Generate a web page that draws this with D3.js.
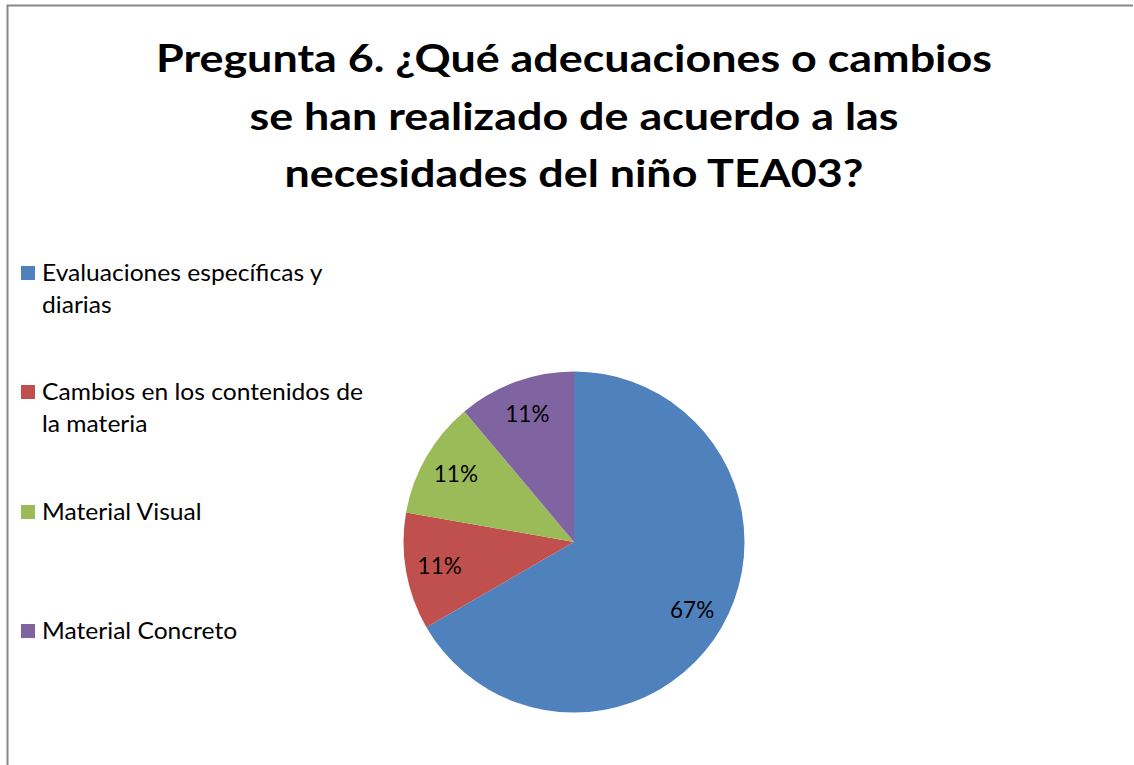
<!DOCTYPE html>
<html><head><meta charset="utf-8">
<script src="https://cdn.jsdelivr.net/npm/d3@7"></script>
<style>html,body{margin:0;padding:0;background:#fff;}svg{display:block;}</style>
</head><body>
<svg id="chart" width="1134" height="765"></svg>
<script>
const titleLines = ["Pregunta 6. ¿Qué adecuaciones o cambios", "se han realizado de acuerdo a las", "necesidades del niño TEA03?"];
const categories = ["Evaluaciones específicas y diarias", "Cambios en los contenidos de la materia", "Material Visual", "Material Concreto"];
const legendLines = [["Evaluaciones específicas y", "diarias"], ["Cambios en los contenidos de", "la materia"], ["Material Visual"], ["Material Concreto"]];
const values = [6, 1, 1, 1];
const colors = ["#4F81BD", "#C0504D", "#9BBB59", "#8064A2"];

const svg = d3.select("#chart");
const W = 1134, H = 765;
const font = "Lato, 'Open Sans', sans-serif";

// frame
svg.append("path").attr("d", `M7.5,${H+2} V5.5 H1133`).attr("fill","none").attr("stroke","#888").attr("stroke-width",2);

// title
const tg = svg.append("g");
const tBase = [72, 129.5, 187];
const tNodes = titleLines.map((t,i) => tg.append("text")
  .attr("x", 574).attr("y", tBase[i]).attr("text-anchor","middle")
  .attr("font-family", font).attr("font-weight","bold").attr("font-size", 38).attr("fill","#000").text(t));
const w1 = tNodes[0].node().getComputedTextLength();
const tf = 836 / w1;
tNodes.forEach(n => { const w = n.node().getComputedTextLength(); n.attr("textLength", w*tf).attr("lengthAdjust","spacingAndGlyphs"); });

// legend
const lg = svg.append("g");
const legY = [273, 392, 512, 631];
const lNodes = [];
legendLines.forEach((lines, i) => {
  lg.append("rect").attr("x", 21).attr("y", legY[i]-7).attr("width", 14).attr("height", 14).attr("fill", colors[i]);
  lines.forEach((ln, j) => {
    lNodes.push(lg.append("text").attr("x", 42).attr("y", legY[i] + 7.5 + j*32.5)
      .attr("font-family", font).attr("font-size", 22.5).attr("fill","#000").text(ln));
  });
});
const lw = lNodes[2].node().getComputedTextLength();
const lf = 321 / lw;
lNodes.forEach(n => { const w = n.node().getComputedTextLength(); n.attr("textLength", w*lf).attr("lengthAdjust","spacingAndGlyphs"); });

// pie
const cx = 574, cy = 542, R = 170.5;
const pie = d3.pie().sort(null).value(d => d)(values);
const arc = d3.arc().innerRadius(0).outerRadius(R);
const labelArc = d3.arc().innerRadius(R*0.8).outerRadius(R*0.8);
const pg = svg.append("g").attr("transform", `translate(${cx},${cy})`);
pg.selectAll("path").data(pie).join("path").attr("d", arc).attr("fill", (d,i) => colors[i]);
const total = d3.sum(values);
pg.selectAll("text").data(pie).join("text")
  .attr("transform", d => { const c = labelArc.centroid(d); return `translate(${c[0]},${c[1]})`; })
  .attr("text-anchor","middle").attr("dy","0.36em")
  .attr("font-family", font).attr("font-size", 22.5).attr("fill","#000")
  .text(d => Math.round(d.value/total*100) + "%");
</script>
</body></html>
